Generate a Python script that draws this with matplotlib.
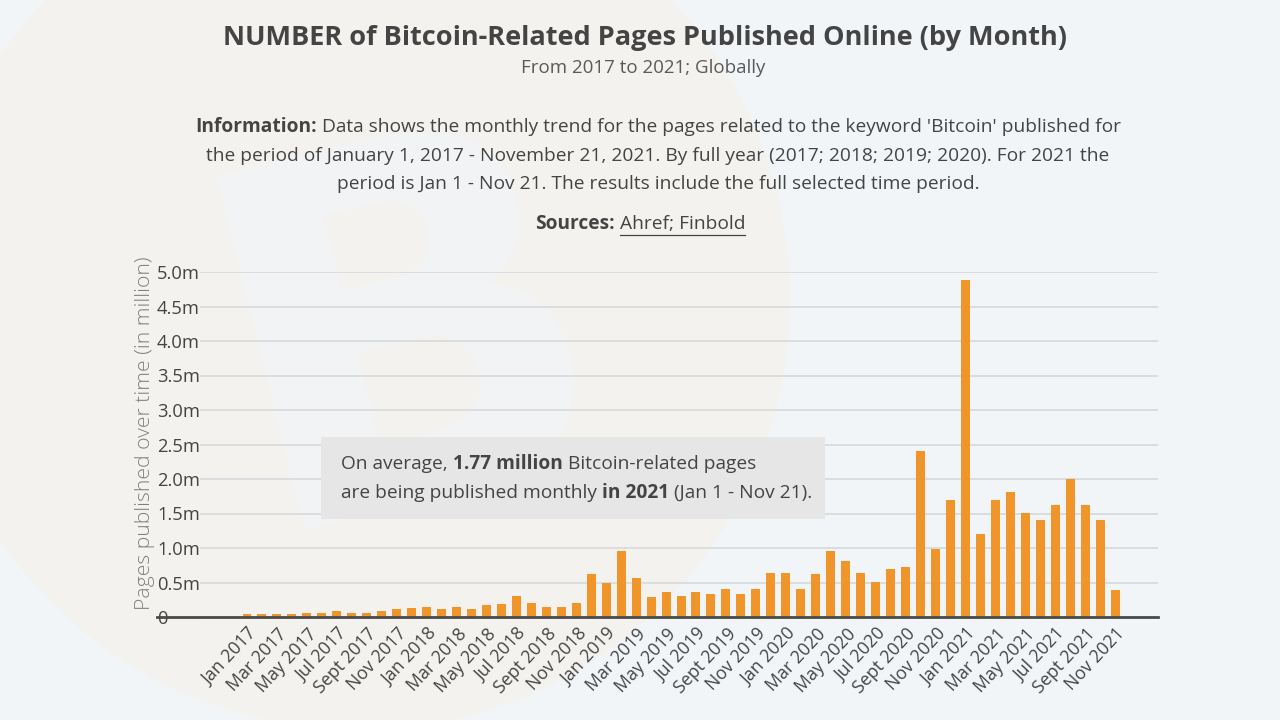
import matplotlib
matplotlib.use("Agg")
import matplotlib.pyplot as plt
import matplotlib.transforms as mtransforms
from matplotlib.patches import Circle, Rectangle
from matplotlib.lines import Line2D

# ── data (million pages per month) ─────────────────────────────────
months = [f"{m} {y}" for y in range(2017, 2022)
          for m in ["Jan", "Feb", "Mar", "Apr", "May", "Jun",
                    "Jul", "Aug", "Sept", "Oct", "Nov", "Dec"]][:59]
pages_2017 = [0.04, 0.04, 0.04, 0.04, 0.06, 0.06, 0.08, 0.06, 0.06, 0.08, 0.11, 0.13]
pages_2018 = [0.145, 0.12, 0.145, 0.12, 0.17, 0.19, 0.31, 0.21, 0.145, 0.145, 0.21, 0.62]
pages_2019 = [0.49, 0.96, 0.56, 0.29, 0.36, 0.31, 0.36, 0.34, 0.40, 0.34, 0.40, 0.64]
pages_2020 = [0.64, 0.40, 0.62, 0.96, 0.81, 0.64, 0.51, 0.69, 0.73, 2.40, 0.99, 1.70]
pages_2021 = [4.89, 1.21, 1.70, 1.81, 1.51, 1.40, 1.62, 2.00, 1.62, 1.40, 0.39]
pages = pages_2017 + pages_2018 + pages_2019 + pages_2020 + pages_2021

yticks = [0, 0.5, 1.0, 1.5, 2.0, 2.5, 3.0, 3.5, 4.0, 4.5, 5.0]
ytick_labels = ["0", "0.5m", "1.0m", "1.5m", "2.0m", "2.5m",
                "3.0m", "3.5m", "4.0m", "4.5m", "5.0m"]

# ── style ──────────────────────────────────────────────────────────
BG     = "#F1F5F8"
BEIGE  = "#F4F2EE"
ORANGE = "#F0952A"
DARK   = "#444444"
GREY   = "#5A5A5A"
GRID   = "#D6D9DC"
FONT   = "Open Sans"
plt.rcParams["font.family"] = [FONT, "DejaVu Sans"]

W, H = 1280, 720
fig = plt.figure(figsize=(W / 100, H / 100), dpi=100)
fig.patch.set_facecolor(BG)


def fx(px):
    return px / W


def fy(py):
    return 1 - py / H


# faint bitcoin logo in the background
bg_ax = fig.add_axes([0, 0, 1, 1], zorder=-5)
bg_ax.set_xlim(0, W)
bg_ax.set_ylim(H, 0)
bg_ax.axis("off")
bg_ax.add_patch(Circle((358, 298), 432, facecolor=BEIGE, edgecolor="none"))
bg_ax.text(410, 350, "B", fontsize=360, fontweight="bold", color="#F2F4F5",
           ha="center", va="center", rotation=14, family="DejaVu Sans")

renderer = fig.canvas.get_renderer()


def space_width(size):
    sp = fig.text(0, 0, "a a", fontsize=size)
    sp2 = fig.text(0, 0, "aa", fontsize=size)
    w = sp.get_window_extent(renderer).width - sp2.get_window_extent(renderer).width
    sp.remove()
    sp2.remove()
    return w


def rich_line(cx, py, segments, size, color=DARK, left=False):
    """Draw a line made of (text, bold, underline) segments."""
    arts = []
    for txt, bold, _ in segments:
        t = fig.text(0, fy(py), txt, fontsize=size, color=color, zorder=5,
                     fontweight="bold" if bold else "normal",
                     ha="left", va="center")
        arts.append(t)
    space = space_width(size)
    widths = [a.get_window_extent(renderer).width for a in arts]
    total = sum(widths) + space * (len(arts) - 1)
    x = cx if left else cx - total / 2
    for a, w, (_, _, ul) in zip(arts, widths, segments):
        a.set_x(fx(x))
        if ul:
            fig.add_artist(Line2D([fx(x), fx(x + w)], [fy(py + 11), fy(py + 11)],
                                  color=color, lw=0.9))
        x += w + space


# ── titles ─────────────────────────────────────────────────────────
fig.text(fx(645), fy(38), "NUMBER of Bitcoin-Related Pages Published Online (by Month)",
         ha="center", va="center", fontsize=19.5, fontweight="bold", color=DARK)
fig.text(fx(643), fy(68), "From 2017 to 2021; Globally",
         ha="center", va="center", fontsize=13.5, color=GREY)

rich_line(658, 127, [("Information:", True, False),
                     ("Data shows the monthly trend for the pages related to the keyword "
                      "'Bitcoin' published for", False, False)], 13.8)
rich_line(658, 156, [("the period of January 1, 2017 - November 21, 2021. By full year "
                      "(2017; 2018; 2019; 2020). For 2021 the", False, False)], 13.8)
rich_line(658, 184, [("period is Jan 1 - Nov 21. The results include the full selected "
                      "time period.", False, False)], 13.8)
rich_line(640, 224, [("Sources:", True, False), ("Ahref; Finbold", False, True)], 13.8)

# ── chart ──────────────────────────────────────────────────────────
ax = fig.add_axes([fx(200), fy(617), fx(1158 - 200), (617 - 272) / H])
ax.set_facecolor("none")
x = list(range(len(pages)))
ax.bar(x, pages, width=0.6, color=ORANGE, zorder=3)

ax.set_xlim(-3.14, 60.87)
ax.set_ylim(0, 5.0)
ax.set_yticks(yticks)
ax.set_yticklabels(ytick_labels)
ax.yaxis.grid(True, color=GRID, lw=1.2, zorder=0)
ax.tick_params(axis="y", length=0, pad=31, labelsize=13.2, labelcolor=DARK)
for lbl in ax.get_yticklabels():
    lbl.set_horizontalalignment("left")
for s in ax.spines.values():
    s.set_visible(False)

ax.set_xticks(x[::2])
ax.set_xticklabels(months[::2], rotation=47, ha="right", va="center",
                   rotation_mode="anchor", fontsize=12.8, color=DARK)
ax.tick_params(axis="x", length=0, pad=10)
shift = mtransforms.ScaledTranslation(0.07, 0, fig.dpi_scale_trans)
for lbl in ax.get_xticklabels():
    lbl.set_transform(lbl.get_transform() + shift)

# baseline running under the "0" label
fig.add_artist(Line2D([fx(157), fx(1158)], [fy(617), fy(617)], color="#4A4A4A", lw=2))

fig.text(fx(145), fy(433), "Pages published over time (in million)", rotation=90,
         ha="center", va="center", fontsize=15.2, color="#808080", fontweight="light")

# ── annotation box ────────────────────────────────────────────────
fig.add_artist(Rectangle((fx(321), fy(519)), fx(825 - 321), (519 - 437) / H,
                         transform=fig.transFigure, facecolor="#E6E6E7",
                         edgecolor="none", zorder=4))
rich_line(341, 464, [("On average,", False, False), ("1.77 million", True, False),
                     ("Bitcoin-related pages", False, False)], 13.8, left=True)
rich_line(341, 493, [("are being published monthly", False, False), ("in 2021", True, False),
                     ("(Jan 1 - Nov 21).", False, False)], 13.8, left=True)

fig.savefig("out.png", dpi=100, facecolor=BG)
